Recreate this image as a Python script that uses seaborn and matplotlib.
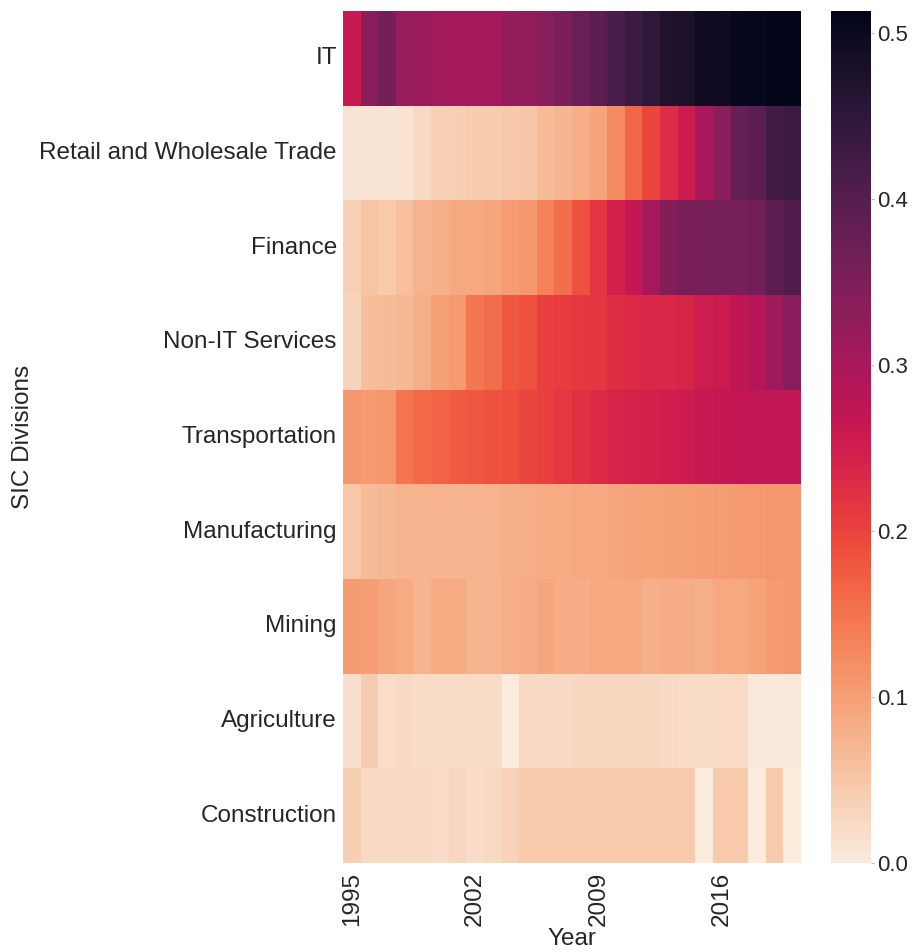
import matplotlib
matplotlib.use("Agg")
import matplotlib.pyplot as plt
import numpy as np
import pandas as pd
import seaborn as sns

# Share of firms per SIC division, by year
years = list(range(1995, 2021))
divisions = ["IT", "Retail and Wholesale Trade", "Finance", "Non-IT Services",
             "Transportation", "Manufacturing", "Mining", "Agriculture", "Construction"]

it = [0.26, 0.332, 0.361, 0.318, 0.315, 0.307, 0.304, 0.304, 0.304, 0.321, 0.321, 0.34, 0.353,
      0.373, 0.391, 0.414, 0.43, 0.45, 0.472, 0.476, 0.491, 0.494, 0.503, 0.506, 0.511, 0.513]
retail = [0.012, 0.012, 0.012, 0.012, 0.026, 0.038, 0.04, 0.043, 0.043, 0.048, 0.052, 0.065, 0.071,
          0.082, 0.093, 0.123, 0.165, 0.2, 0.228, 0.255, 0.3, 0.336, 0.38, 0.39, 0.421, 0.43]
finance = [0.038, 0.053, 0.045, 0.06, 0.075, 0.079, 0.09, 0.09, 0.092, 0.103, 0.11, 0.135, 0.156,
           0.188, 0.218, 0.245, 0.265, 0.305, 0.342, 0.355, 0.357, 0.357, 0.358, 0.365, 0.39, 0.405]
non_it = [0.032, 0.062, 0.066, 0.068, 0.081, 0.1, 0.106, 0.146, 0.157, 0.18, 0.185, 0.205, 0.207,
          0.213, 0.215, 0.225, 0.232, 0.233, 0.236, 0.24, 0.253, 0.258, 0.272, 0.283, 0.312, 0.338]
transport = [0.11, 0.108, 0.112, 0.147, 0.16, 0.167, 0.175, 0.18, 0.185, 0.19, 0.198, 0.206, 0.214,
             0.222, 0.232, 0.237, 0.243, 0.246, 0.25, 0.256, 0.26, 0.265, 0.268, 0.27, 0.27, 0.27]
manufacturing = [0.05, 0.065, 0.067, 0.076, 0.076, 0.075, 0.074, 0.075, 0.075, 0.079, 0.081, 0.085, 0.086,
                 0.089, 0.09, 0.091, 0.093, 0.096, 0.097, 0.1, 0.101, 0.104, 0.106, 0.108, 0.109, 0.109]
mining = [0.106, 0.101, 0.092, 0.085, 0.073, 0.085, 0.085, 0.074, 0.074, 0.081, 0.084, 0.092, 0.084,
          0.084, 0.087, 0.087, 0.087, 0.08, 0.084, 0.084, 0.08, 0.089, 0.089, 0.096, 0.105, 0.11]
agriculture = [0.018, 0.042, 0.02, 0.025, 0.022, 0.022, 0.022, 0.022, 0.022, 0.0, 0.026, 0.026, 0.026,
               0.027, 0.027, 0.027, 0.027, 0.027, 0.026, 0.022, 0.022, 0.022, 0.024, 0.004, 0.004, 0.004]
construction = [0.04, 0.026, 0.026, 0.026, 0.026, 0.022, 0.028, 0.022, 0.026, 0.033, 0.045, 0.045, 0.045,
                0.045, 0.045, 0.045, 0.045, 0.045, 0.045, 0.045, 0.0, 0.045, 0.045, 0.0, 0.045, 0.0]

df = pd.DataFrame([it, retail, finance, non_it, transport, manufacturing,
                   mining, agriculture, construction],
                  index=divisions, columns=years)
df.index.name = "SIC Divisions"
df.columns.name = "Year"

sns.set_theme(style="white")
plt.rcParams["font.family"] = ["Liberation Sans", "DejaVu Sans"]

fs = 17.5
fig = plt.figure(figsize=(9.13, 9.52), dpi=100)
ax = fig.add_axes([0.3757, 0.0935, 0.5016, 0.8949])
cax = fig.add_axes([0.910, 0.0935, 0.0438, 0.8949])

sns.heatmap(df, ax=ax, cbar_ax=cax, cmap="rocket_r", xticklabels=7, yticklabels=True)

ax.set_xlabel("Year", fontsize=fs, labelpad=1)
ax.set_ylabel("SIC Divisions", fontsize=fs, labelpad=4)
ax.tick_params(axis="x", labelsize=fs, rotation=90, length=0, pad=6.5)
ax.tick_params(axis="y", labelsize=fs, rotation=0, length=0, pad=4.5)
cax.tick_params(labelsize=16, length=2.5, width=0.8, color="#bbbbbb", pad=2)
cax.yaxis.set_major_locator(matplotlib.ticker.MultipleLocator(0.1))

fig.savefig("out.png", dpi=100)
